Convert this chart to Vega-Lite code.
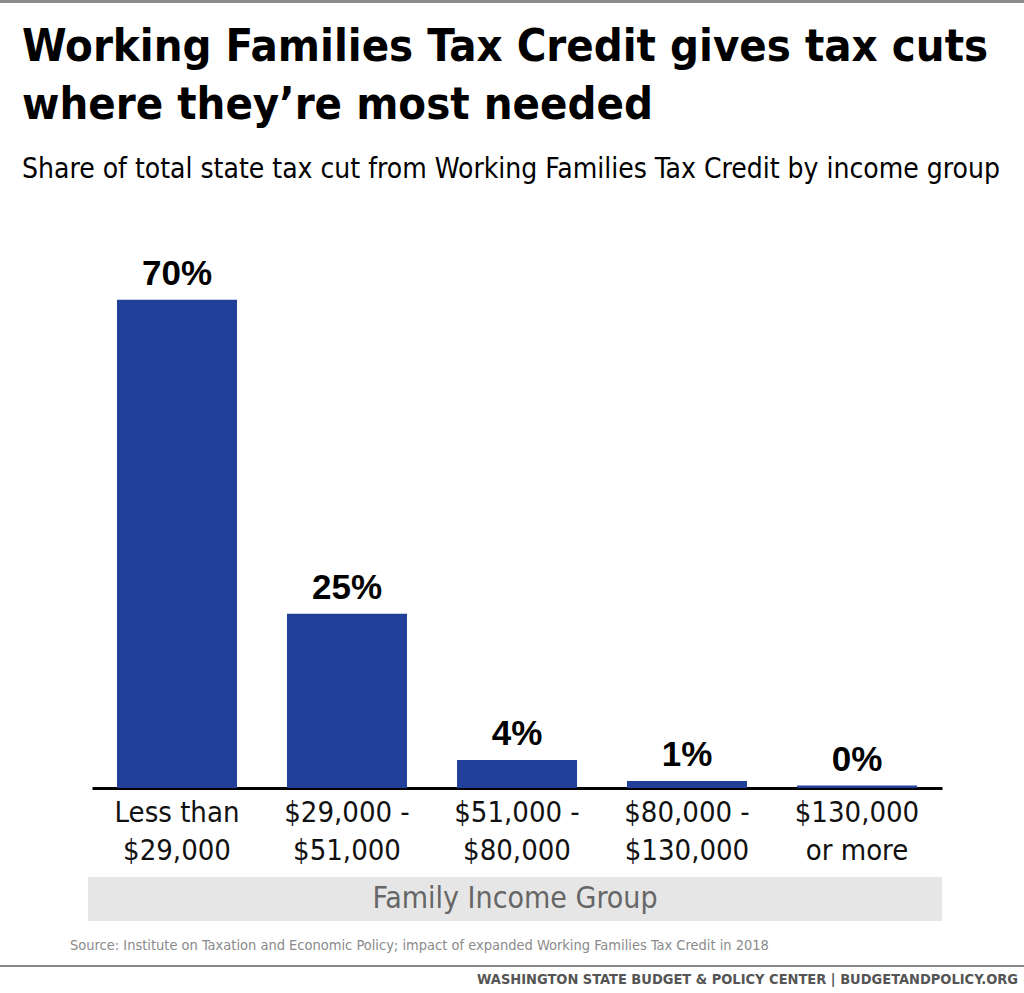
{
  "$schema": "https://vega.github.io/schema/vega-lite/v6.json",
  "background": "white",
  "padding": 0,
  "spacing": 21,
  "config": {"view": {"stroke": null}, "font": "DejaVu Sans Condensed, sans-serif"},
  "datasets": {
    "shares": [
      {"group": "Less than $29,000", "value": 70, "label": "70%"},
      {"group": "$29,000 - $51,000", "value": 25, "label": "25%"},
      {"group": "$51,000 - $80,000", "value": 4, "label": "4%"},
      {"group": "$80,000 - $130,000", "value": 1, "label": "1%"},
      {"group": "$130,000 or more", "value": 0.35, "label": "0%"}
    ]
  },
  "vconcat": [
    {
      "width": 1024,
      "height": 3,
      "data": {"values": [{"line": "top"}]},
      "mark": {"type": "rect", "color": "#8c8c8c"},
      "encoding": {}
    },
    {
      "spacing": 12,
      "vconcat": [
        {
          "width": 1024,
          "height": 523,
          "data": {"name": "shares"},
          "title": {
            "text": ["Working Families Tax Credit gives tax cuts", "where they’re most needed"],
            "subtitle": "Share of total state tax cut from Working Families Tax Credit by income group",
            "anchor": "start",
            "frame": "group",
            "dx": 22,
            "font": "DejaVu Sans Condensed, sans-serif",
            "fontSize": 45,
            "fontWeight": "bold",
            "color": "#000000",
            "lineHeight": 58,
            "subtitleFont": "DejaVu Sans Condensed, sans-serif",
            "subtitleFontSize": 28,
            "subtitleColor": "#000000",
            "subtitlePadding": 28,
            "offset": 73
          },
          "encoding": {
            "x": {
              "field": "group",
              "type": "nominal",
              "sort": null,
              "scale": {"range": [92, 942], "paddingInner": 0.294, "paddingOuter": 0.147},
              "axis": {
                "title": null,
                "labelAngle": 0,
                "ticks": false,
                "domainColor": "#000000",
                "domainWidth": 3,
                "labelFont": "DejaVu Sans Condensed, sans-serif",
                "labelFontSize": 29,
                "labelColor": "#111111",
                "labelPadding": 10,
                "labelLineHeight": 38,
                "labelExpr": "split(replace(datum.label, regexp('^(Less than|[^ ]+ -|[^ ]+) '), '$1|'), '|')"
              }
            }
          },
          "layer": [
            {
              "mark": {"type": "bar", "color": "#22409a"},
              "encoding": {
                "y": {"field": "value", "type": "quantitative", "scale": {"domain": [0, 75], "nice": false}, "axis": null}
              }
            },
            {
              "mark": {"type": "text", "font": "Liberation Sans, sans-serif", "fontWeight": "bold", "fontSize": 35, "baseline": "alphabetic", "dy": -15, "color": "#000000"},
              "encoding": {
                "y": {"field": "value", "type": "quantitative"},
                "text": {"field": "label"}
              }
            }
          ]
        },
        {
          "width": 1024,
          "height": 44,
          "data": {"values": [{"name": "Family Income Group"}]},
          "title": {
            "text": "Source: Institute on Taxation and Economic Policy; impact of expanded Working Families Tax Credit in 2018",
            "orient": "bottom",
            "anchor": "start",
            "frame": "group",
            "dx": 70,
            "font": "DejaVu Sans Condensed, sans-serif",
            "fontSize": 14.5,
            "fontWeight": "normal",
            "color": "#8a8a8a",
            "offset": 18
          },
          "layer": [
            {
              "mark": {"type": "rect", "color": "#e6e6e6"},
              "encoding": {
                "x": {"datum": 0, "type": "quantitative", "scale": {"domain": [0, 1], "range": [88, 942]}, "axis": null},
                "x2": {"datum": 1}
              }
            },
            {
              "mark": {"type": "text", "fontSize": 30, "color": "#666666", "baseline": "middle", "font": "DejaVu Sans Condensed, sans-serif"},
              "encoding": {
                "x": {"datum": 0.5, "type": "quantitative"},
                "text": {"field": "name"}
              }
            }
          ]
        },
        {
          "width": 1024,
          "height": 2,
          "data": {"values": [{"line": "footer"}]},
          "mark": {"type": "rect", "color": "#8a8a8a"},
          "encoding": {},
          "title": {
            "text": "WASHINGTON STATE BUDGET & POLICY CENTER | BUDGETANDPOLICY.ORG",
            "orient": "bottom",
            "anchor": "end",
            "frame": "group",
            "dx": -6,
            "font": "DejaVu Sans Condensed, sans-serif",
            "fontSize": 14.5,
            "fontWeight": "bold",
            "color": "#555555",
            "offset": 6
          }
        }
      ]
    }
  ]
}
